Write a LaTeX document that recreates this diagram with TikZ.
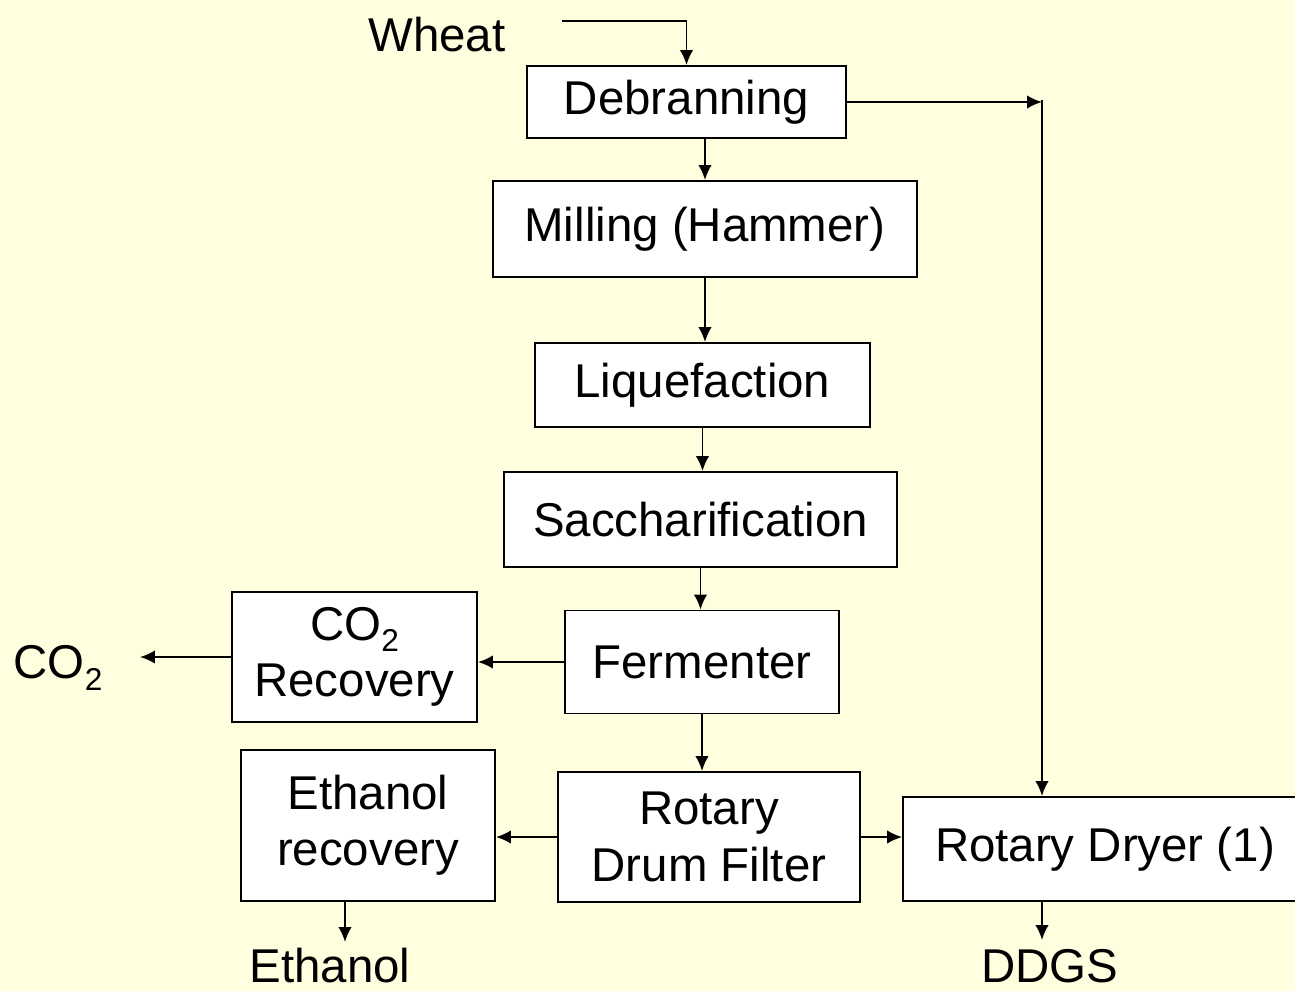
\documentclass[tikz,border=0pt]{standalone}
\usepackage{fontspec}
\setmainfont{Liberation Sans}
\usetikzlibrary{arrows.meta}
\definecolor{paper}{RGB}{255,255,224}
\newcommand{\cotwo}{CO\raisebox{-0.45ex}{\fontsize{18}{18}\selectfont 2}}

\begin{document}
\begin{tikzpicture}[x=0.02cm, y=-0.02cm,
        every node/.style={font=\fontsize{27}{32}\selectfont},
        unit/.style={draw, line width=1.1pt, fill=white, align=center, inner sep=0pt},
        flow/.style={-{Latex[length=0.3cm, width=0.27cm]}, line width=1.1pt}]
        % Page
        \fill[paper] (0,0) rectangle (1295,991);
        \useasboundingbox (0,0) rectangle (1295,991);

        % Main line
        \node[unit, minimum width=6.38cm, minimum height=1.44cm] (deb) at (686.5,102) {Debranning};
        \node[unit, minimum width=8.48cm, minimum height=1.92cm] (mill) at (705,229) {Milling (Hammer)};
        \node[unit, minimum width=6.7cm, minimum height=1.68cm] (liq) at (702.5,385) {Liquefaction};
        \node[unit, minimum width=7.86cm, minimum height=1.9cm] (sacch) at (700.5,519.5) {Saccharification};
        \node[unit, minimum width=5.48cm, minimum height=2.06cm] (ferm) at (702,662) {Fermenter};
        \node[unit, minimum width=6.04cm, minimum height=2.6cm] (drum) at (709,837) {Rotary\\Drum Filter};

        % Side units
        \node[unit, minimum width=4.9cm, minimum height=2.6cm] (co2rec) at (354.5,657) {\cotwo\\Recovery};
        \node[unit, minimum width=5.08cm, minimum height=3.02cm] (ethrec) at (368,825.5) {Ethanol\\recovery};
        \node[unit, minimum width=8.08cm, minimum height=2.08cm] (dryer) at (1105,849) {Rotary Dryer (1)};

        % Streams in and out
        \node (wheat) at (437,35) {Wheat};
        \node (co2) at (58,668) {\cotwo};
        \node (ethanol) at (330,966) {Ethanol};
        \node (ddgs) at (1050,966) {DDGS};

        \coordinate (wheatin) at (562,21);
        \coordinate (bend) at (1042,100);
        \coordinate (co2tip) at (140,662);
        \coordinate (ethtip) at (345,942);
        \coordinate (ddgstip) at (1042,940);

        % Arrows
        \draw[flow] (wheatin) -| (deb.north);
        \draw[flow] (deb.east) -- (deb.east -| bend);
        \draw[flow] (bend) -- (bend |- dryer.north);
        \draw[flow] (mill.north |- deb.south) -- (mill.north);
        \draw[flow] (mill.south) -- (mill.south |- liq.north);
        \draw[flow] (liq.south) -- (liq.south |- sacch.north);
        \draw[flow] (sacch.south) -- (sacch.south |- ferm.north);
        \draw[flow] (ferm.west) -- (ferm.west -| co2rec.east);
        \draw[flow] (co2rec.west) -- (co2rec.west -| co2tip);
        \draw[flow] (ferm.south) -- (ferm.south |- drum.north);
        \draw[flow] (drum.west) -- (drum.west -| ethrec.east);
        \draw[flow] (drum.east) -- (drum.east -| dryer.west);
        \draw[flow] (ethrec.south -| ethtip) -- (ethtip);
        \draw[flow] (dryer.south -| ddgstip) -- (ddgstip);

\end{tikzpicture}
\end{document}
